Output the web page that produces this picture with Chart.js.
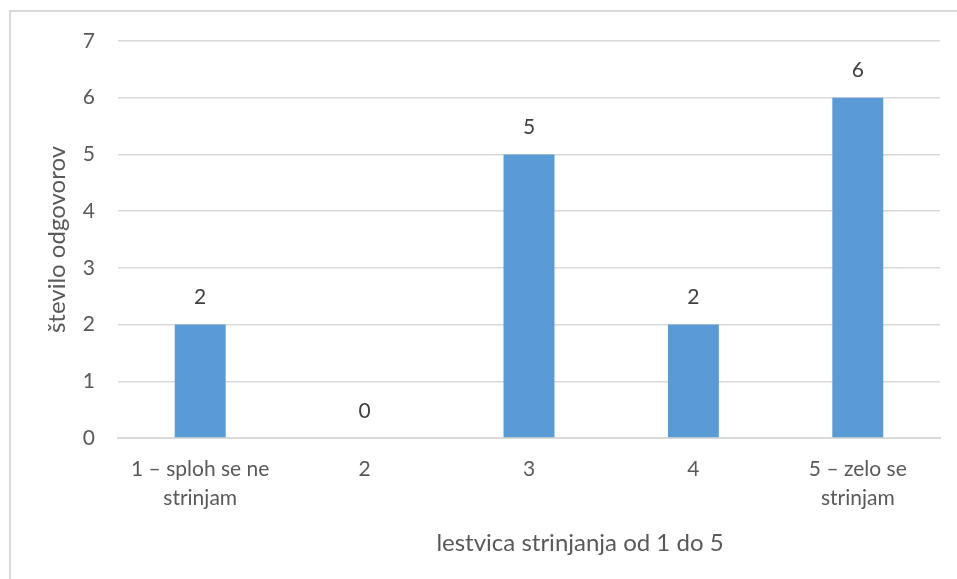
<!DOCTYPE html>
<html>
<head>
<meta charset="utf-8">
<script src="https://cdn.jsdelivr.net/npm/chart.js@4"></script>
<style>
  html, body { margin: 0; padding: 0; background: #ffffff; }
  #wrap { position: relative; width: 957px; height: 579px; overflow: hidden; }
  #frame { position: absolute; left: 9px; top: 10px; width: 1000px; height: 1000px;
           border-top: 2px solid #d9d9d9; border-left: 2px solid #d9d9d9; box-sizing: border-box; }
  canvas { position: absolute; left: 0; top: 0; }
</style>
</head>
<body>
<div id="wrap">
  <div id="frame"></div>
  <canvas id="c" width="957" height="579"></canvas>
</div>
<script>
// Agreement scale categories (multi-line labels) and response counts
const categories = [
  ['1 – sploh se ne', 'strinjam'],
  '2',
  '3',
  '4',
  ['5 – zelo se', 'strinjam']
];
const counts = [2, 0, 5, 2, 6];
const yTicks = [0, 1, 2, 3, 4, 5, 6, 7];
const yTitle = 'število odgovorov';
const xTitle = 'lestvica strinjanja od 1 do 5';

const FONT = 'Lato, "Open Sans", sans-serif';
const TEXT = '#595959';
const GRID = '#d9d9d9';
const BAR = '#5b9bd5';

// Value labels above each bar
const valueLabels = {
  id: 'valueLabels',
  afterDatasetsDraw(chart) {
    const ctx = chart.ctx;
    const meta = chart.getDatasetMeta(0);
    ctx.save();
    ctx.font = '21px ' + FONT;
    ctx.fillStyle = '#404040';
    ctx.textAlign = 'center';
    ctx.textBaseline = 'middle';
    meta.data.forEach((bar, i) => {
      ctx.fillText(String(counts[i]), bar.x, bar.y - 27);
    });
    ctx.restore();
  }
};

// Horizontal axis title, placed right of the plot centre
const xAxisTitle = {
  id: 'xAxisTitle',
  afterDraw(chart) {
    const a = chart.chartArea;
    const ctx = chart.ctx;
    ctx.save();
    ctx.font = '24px ' + FONT;
    ctx.fillStyle = TEXT;
    ctx.textAlign = 'center';
    ctx.textBaseline = 'middle';
    ctx.fillText(xTitle, a.left + (a.right - a.left) * 0.562, a.bottom + 105);
    ctx.restore();
  }
};

new Chart(document.getElementById('c'), {
  type: 'bar',
  data: {
    labels: categories,
    datasets: [{
      data: counts,
      backgroundColor: BAR,
      borderWidth: 0,
      categoryPercentage: 1.0,
      barPercentage: 0.31
    }]
  },
  options: {
    responsive: false,
    animation: false,
    devicePixelRatio: 1,
    layout: { padding: { left: 0, right: 17, top: 41, bottom: 0 } },
    plugins: { legend: { display: false }, tooltip: { enabled: false } },
    scales: {
      x: {
        grid: { display: false, drawTicks: false },
        border: { display: true, color: GRID, width: 2 },
        ticks: {
          color: TEXT,
          font: { family: FONT, size: 21, lineHeight: 1.38 },
          padding: 17,
          maxRotation: 0,
          autoSkip: false
        },
        afterFit(scale) { scale.height = 141; }
      },
      y: {
        min: 0,
        max: 7,
        afterBuildTicks(scale) { scale.ticks = yTicks.map(v => ({ value: v })); },
        grid: { color: GRID, lineWidth: 1.5, drawTicks: false },
        border: { display: false },
        ticks: {
          color: TEXT,
          font: { family: FONT, size: 21 },
          padding: 23
        },
        title: {
          display: true,
          text: yTitle,
          color: TEXT,
          font: { family: FONT, size: 24 },
          padding: { top: 43, bottom: 0 }
        },
        afterFit(scale) { scale.width = 118; }
      }
    }
  },
  plugins: [valueLabels, xAxisTitle]
});
</script>
</body>
</html>
